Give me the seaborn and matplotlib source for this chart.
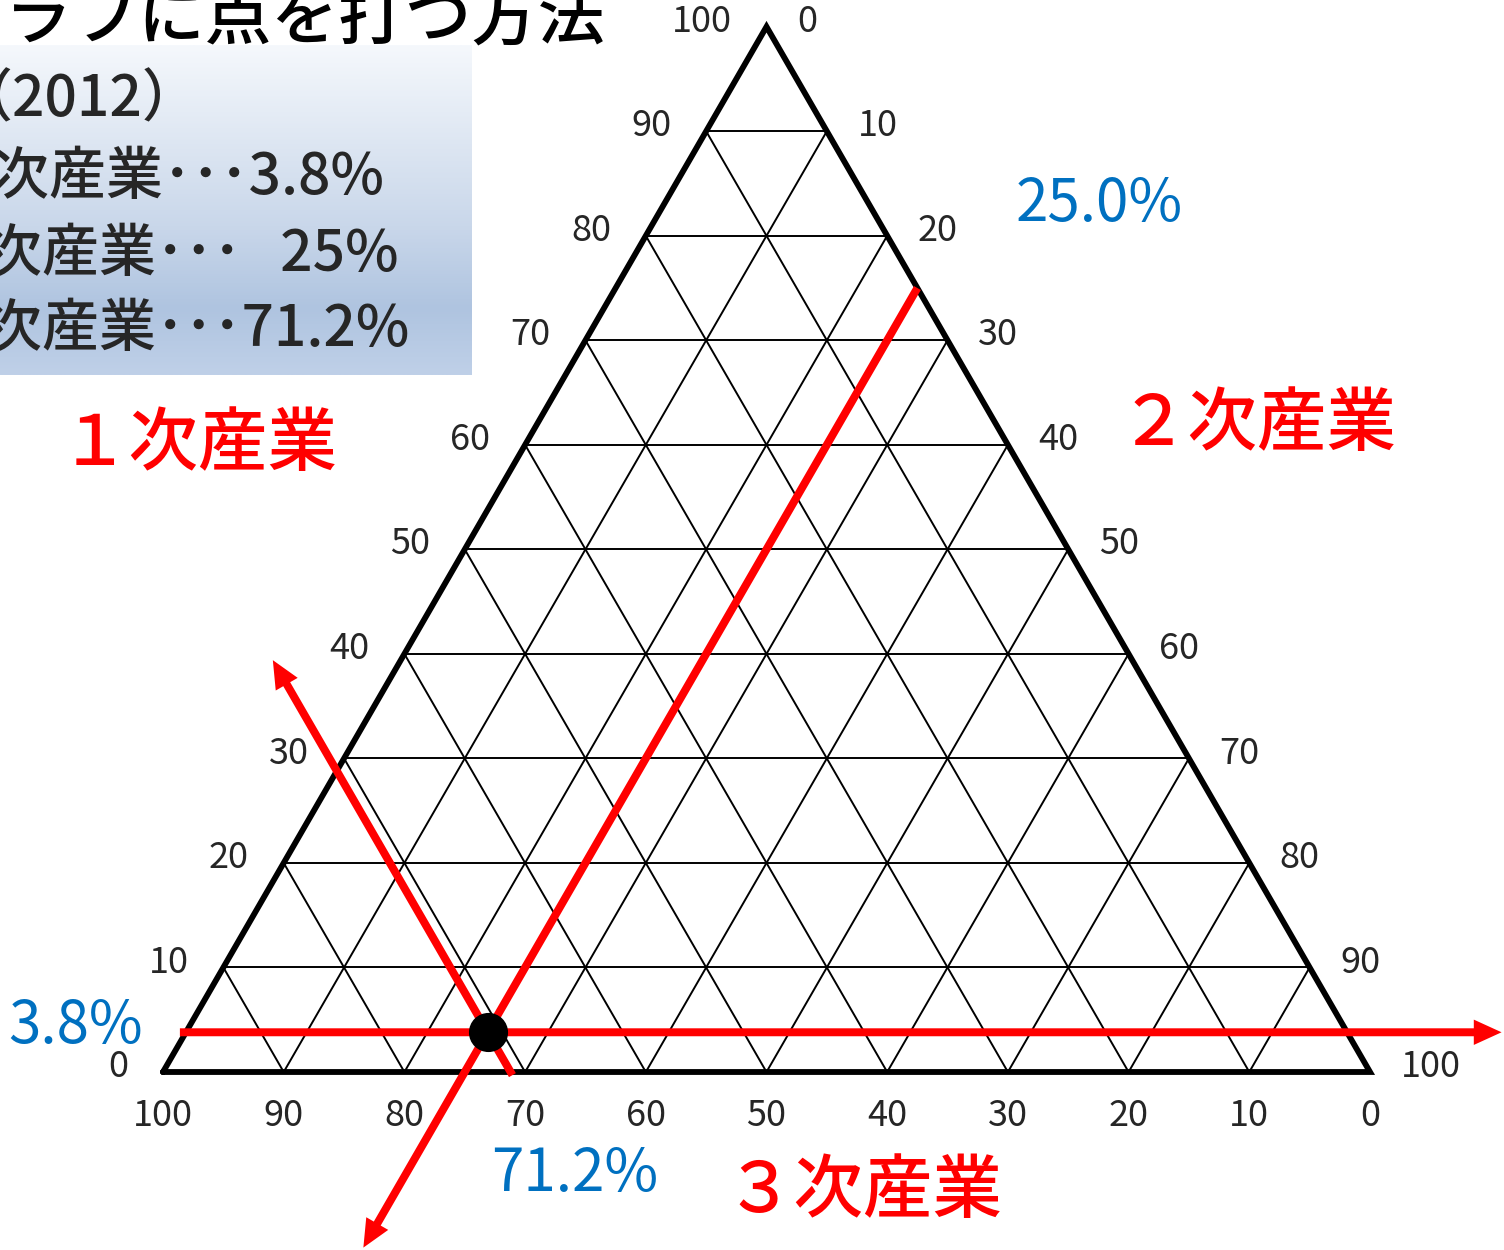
import numpy as np
import pandas as pd
import matplotlib.pyplot as plt
import seaborn as sns
from matplotlib.colors import LinearSegmentedColormap

# 日本の産業別人口構成 (2012)
primary = 3.8      # 1次産業
secondary = 25.0   # 2次産業
tertiary = 71.2    # 3次産業

grid_steps = [10, 20, 30, 40, 50, 60, 70, 80, 90]
tick_values = [0, 10, 20, 30, 40, 50, 60, 70, 80, 90, 100]

# 補助線の長さ (三角座標でどこまで伸ばすか)
h_line_s = [-0.5, 109.0]    # 1次産業 = 3.8% の線, 2次産業の範囲
s_line_p = [75.0, -16.8]    # 2次産業 = 25% の線, 1次産業の範囲
t_line_p = [-0.3, 39.4]     # 3次産業 = 71.2% の線, 1次産業の範囲

W, H = 1504, 1250
U = 12.07                   # 1% あたりのピクセル数
X0, Y0 = 163, 1072          # 左下の頂点 (ピクセル)

JP = ['Noto Sans CJK JP', 'DejaVu Sans']
BLUE = '#0070C0'
RED = '#FF0000'


def tern(p, s):
    # 三角座標 -> 直交座標
    return s + p / 2.0, p * np.sqrt(3) / 2.0


# 格子線のデータを作る
rows = []
seg = 0
for k in grid_steps:
    for a, b in [((k, 0), (k, 100 - k)),          # 1次産業 一定
                 ((100 - k, k), (0, k)),          # 2次産業 一定
                 ((0, 100 - k), (100 - k, 0))]:   # 3次産業 一定
        for p, s in (a, b):
            x, y = tern(p, s)
            rows.append({'seg': seg, 'x': x, 'y': y})
        seg += 1
grid = pd.DataFrame(rows)

frame = pd.DataFrame([tern(p, s) for p, s in [(0, 0), (0, 100), (100, 0), (0, 0)]],
                     columns=['x', 'y'])

sns.set_style('white')
plt.rcParams['font.family'] = JP

fig = plt.figure(figsize=(W / 100, H / 100), dpi=100)
ax = fig.add_axes([0, 0, 1, 1])

sns.lineplot(data=grid, x='x', y='y', units='seg', estimator=None, sort=False,
             color='black', linewidth=1.4, legend=False, ax=ax)
sns.lineplot(data=frame, x='x', y='y', estimator=None, sort=False,
             color='black', linewidth=4.2, ax=ax)
ax.lines[-1].set_solid_joinstyle('miter')


def red_arrow(start, end):
    x0, y0 = tern(*start)
    x1, y1 = tern(*end)
    ax.arrow(x0, y0, x1 - x0, y1 - y0, width=0.66, head_width=2.1, head_length=2.3,
             length_includes_head=True, color=RED, lw=0, zorder=4)


red_arrow((primary, h_line_s[0]), (primary, h_line_s[1]))
red_arrow((s_line_p[0], secondary), (s_line_p[1], secondary))
red_arrow((t_line_p[0], 100 - tertiary - t_line_p[0]), (t_line_p[1], 100 - tertiary - t_line_p[1]))

px, py = tern(primary, secondary)
sns.scatterplot(x=[px], y=[py], s=680, color='black', edgecolor='black', zorder=5, ax=ax)

# 目盛りラベル
for v in tick_values:
    ax.annotate(str(v), tern(v, 0), xytext=(-25, 3.5), textcoords='offset points',
                ha='right', va='center', fontsize=26)
    ax.annotate(str(v), tern(100 - v, v), xytext=(22, 3.5), textcoords='offset points',
                ha='left', va='center', fontsize=26)
    ax.annotate(str(v), tern(0, 100 - v), xytext=(0, -32), textcoords='offset points',
                ha='center', va='center', fontsize=26)

ax.set_xlim(-X0 / U, (W - X0) / U)
ax.set_ylim(-(H - Y0) / U, Y0 / U)
ax.axis('off')

# 左上の説明ボックス
box = fig.add_axes([0, 1 - 375 / H, 472 / W, 330 / H])
cmap = LinearSegmentedColormap.from_list('box', [(0, '#F5F8FC'), (0.55, '#C9D7EA'),
                                                 (0.8, '#AFC4E0'), (1, '#BFD0E8')])
box.imshow(np.linspace(0, 1, 200).reshape(-1, 1), cmap=cmap, aspect='auto')
box.axis('off')


def ftext(x, y, s, **kw):
    fig.text(x / W, 1 - y / H, s, **kw)


ftext(605, 20, '三角グラフに点を打つ方法', ha='right', va='center', fontsize=48,
      weight='medium', color='black')
ftext(-45, 100, '（2012）', ha='left', va='center', fontsize=41, weight='medium')
ftext(-64, 178, f'１次産業･･･{primary}%', ha='left', va='center', fontsize=41, weight='medium')
ftext(-72, 255, f'２次産業･･･   {secondary:.0f}%', ha='left', va='center', fontsize=41,
      weight='medium')
ftext(-72, 330, f'３次産業･･･{tertiary}%', ha='left', va='center', fontsize=41, weight='medium')

ftext(60, 445, '１次産業', ha='left', va='center', fontsize=50, weight='medium', color=RED)
ftext(1119, 425, '２次産業', ha='left', va='center', fontsize=50, weight='medium', color=RED)
ftext(724, 1192, '３次産業', ha='left', va='center', fontsize=50, weight='medium', color=RED)

ftext(8, 1026, f'{primary}%', ha='left', va='center', fontsize=42, color=BLUE)
ftext(1016, 205, f'{secondary:.1f}%', ha='left', va='center', fontsize=42, color=BLUE)
ftext(491, 1175, f'{tertiary}%', ha='left', va='center', fontsize=42, color=BLUE)

fig.savefig('out.png', dpi=100)
